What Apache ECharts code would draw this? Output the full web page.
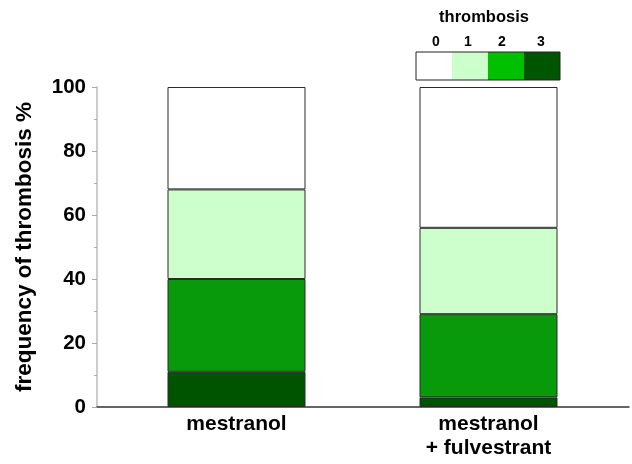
<!DOCTYPE html>
<html>
<head>
<meta charset="utf-8">
<script src="https://cdn.jsdelivr.net/npm/echarts@6/dist/echarts.min.js"></script>
<style>html,body{margin:0;padding:0;background:#fff}#c{width:632px;height:464px}</style>
</head>
<body>
<div id="c"></div>
<script>
// ---- data ----
const categories = ['mestranol', 'mestranol\n+ fulvestrant'];
const levels = ['0', '1', '2', '3'];
const score3 = [11, 3];
const score2 = [29, 26];
const score1 = [28, 27];
const score0 = [32, 44];
const yTicks = [0, 20, 40, 60, 80, 100];
const barColors = ['#ffffff', '#ccffcc', '#099a0b', '#005400'];
const legendColors = ['#ffffff', '#ccffcc', '#00c000', '#005500'];

const FONT = "'Liberation Sans', Arial, sans-serif";
const chart = echarts.init(document.getElementById('c'));

const stacks = [score3, score2, score1, score0];
const stackLevels = [3, 2, 1, 0];
const series = stacks.map((vals, i) => ({
  type: 'bar',
  name: levels[stackLevels[i]],
  stack: 'total',
  xAxisIndex: 1,
  yAxisIndex: 1,
  barWidth: 138,
  data: vals,
  itemStyle: { color: barColors[stackLevels[i]], borderColor: '#2a2a2a', borderWidth: 1 },
  silent: true
}));

// legend built as graphic from levels/colors
const lgX = 416, lgY = 52, cellW = 36, cellH = 28;
const labelOffsets = [20, 16, 14, 17];
const graphic = [];
levels.forEach((lv, i) => {
  graphic.push({ type: 'rect', shape: { x: lgX + i * cellW, y: lgY, width: cellW, height: cellH },
    style: { fill: legendColors[i], stroke: null } });
  graphic.push({ type: 'text', x: lgX + i * cellW + labelOffsets[i], y: 42,
    style: { text: lv, font: 'bold 14px ' + FONT, fill: '#000', align: 'center', verticalAlign: 'middle' } });
});
graphic.push({ type: 'rect', shape: { x: lgX, y: lgY, width: cellW * 4, height: cellH },
  style: { fill: null, stroke: '#222', lineWidth: 1 } });
graphic.push({ type: 'text', x: 484, y: 17,
  style: { text: 'thrombosis', font: 'bold 16.5px ' + FONT, fill: '#000', align: 'center', verticalAlign: 'middle' } });

chart.setOption({
  animation: false,
  backgroundColor: '#fff',
  grid: [
    { left: 97, right: 3, top: 87, bottom: 57 },
    { left: 110.5, right: 17.5, top: 87, bottom: 57 }
  ],
  xAxis: [
    { gridIndex: 0, type: 'value', min: 0, max: 1,
      axisLine: { show: true, lineStyle: { color: '#333', width: 1.5 } },
      axisTick: { show: false }, axisLabel: { show: false }, splitLine: { show: false } },
    { gridIndex: 1, type: 'category', data: categories,
      axisLine: { show: false }, axisTick: { show: false },
      axisLabel: { color: '#000', fontFamily: FONT, fontWeight: 'bold', fontSize: 21, lineHeight: 24, margin: 5 } }
  ],
  yAxis: [
    { gridIndex: 0, type: 'value', min: yTicks[0], max: yTicks[yTicks.length - 1], interval: yTicks[1] - yTicks[0],
      name: 'frequency of thrombosis %', nameLocation: 'middle', nameGap: 61,
      nameTextStyle: { color: '#000', fontFamily: FONT, fontWeight: 'bold', fontSize: 22.5 },
      axisLine: { show: true, lineStyle: { color: '#bbbbbb', width: 1.5 } },
      axisTick: { show: true, length: 5, lineStyle: { color: '#aaaaaa' } },
      minorTick: { show: true, splitNumber: 2, length: 3, lineStyle: { color: '#aaaaaa' } },
      splitLine: { show: false },
      axisLabel: { color: '#000', fontFamily: FONT, fontWeight: 'bold', fontSize: 20.5, margin: 11 } },
    { gridIndex: 1, type: 'value', min: 0, max: 100, show: false }
  ],
  series: series,
  graphic: graphic
});
</script>
</body>
</html>
